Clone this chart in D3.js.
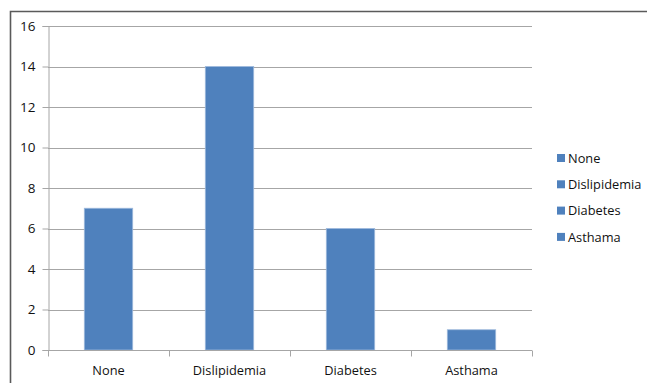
<!DOCTYPE html>
<html>
<head>
<meta charset="utf-8">
<script src="https://cdn.jsdelivr.net/npm/d3@7"></script>
<style>
  html, body { margin: 0; padding: 0; background: #fff; }
  svg { display: block; }
  text { font-family: "Open Sans", Lato, sans-serif; fill: #111; }
</style>
</head>
<body>
<svg id="chart" width="647" height="383"></svg>
<script>
// Comorbidity counts
const categories = ["None", "Dislipidemia", "Diabetes", "Asthama"];
const counts = [7, 14, 6, 1];
const yTicks = [0, 2, 4, 6, 8, 10, 12, 14, 16];
const legendLabels = ["None", "Dislipidemia", "Diabetes", "Asthama"];

const barColor = "#4f81bd";
const gridColor = "#a6a6a6";
const fontSize = 12.8;

const svg = d3.select("#chart");

// outer chart frame (left and top edges visible)
svg.append("path")
  .attr("d", "M10.5,383 V11.5 H647")
  .attr("fill", "none")
  .attr("stroke", "#5a5a5a")
  .attr("stroke-width", 1.6);

const plot = { left: 48, right: 532, top: 26, bottom: 350 };

const x = d3.scaleBand()
  .domain(categories)
  .range([plot.left, plot.right])
  .paddingInner(0.6)
  .paddingOuter(0.3);

const y = d3.scaleLinear()
  .domain([0, 16])
  .range([plot.bottom, plot.top]);

// horizontal gridlines
svg.append("g")
  .selectAll("line")
  .data(yTicks.filter(t => t > 0))
  .join("line")
  .attr("x1", plot.left)
  .attr("x2", plot.right)
  .attr("y1", d => Math.round(y(d)) + 0.5)
  .attr("y2", d => Math.round(y(d)) + 0.5)
  .attr("stroke", gridColor)
  .attr("stroke-width", 1);

// bars
svg.append("g")
  .selectAll("rect")
  .data(categories.map((c, i) => ({ c, v: counts[i] })))
  .join("rect")
  .attr("x", d => x(d.c))
  .attr("width", x.bandwidth())
  .attr("y", d => y(d.v))
  .attr("height", d => y(0) - y(d.v))
  .attr("fill", barColor)
  .attr("stroke", "#9db9dc")
  .attr("stroke-width", 0.8);

// y axis
const yAxis = svg.append("g")
  .attr("transform", `translate(${plot.left + 0.5},0)`)
  .call(d3.axisLeft(y).tickValues(yTicks).tickSize(6).tickPadding(7).tickFormat(d3.format("d")));
yAxis.select(".domain").attr("stroke", gridColor);
yAxis.selectAll(".tick line").attr("stroke", gridColor);
yAxis.selectAll(".tick text")
  .attr("font-size", 13.5)
  .attr("font-family", "'Open Sans', Lato, sans-serif")
  .attr("fill", "#111");

// x axis with ticks at category boundaries
const xAxisG = svg.append("g")
  .attr("transform", `translate(0,${Math.round(y(0)) + 0.5})`);
xAxisG.append("line")
  .attr("x1", plot.left).attr("x2", plot.right)
  .attr("stroke", gridColor);
const boundaries = d3.range(categories.length + 1).map(i => plot.left + i * (plot.right - plot.left) / categories.length);
xAxisG.selectAll("line.tk")
  .data(boundaries)
  .join("line")
  .attr("class", "tk")
  .attr("x1", d => Math.round(d) + 0.5)
  .attr("x2", d => Math.round(d) + 0.5)
  .attr("y1", 0)
  .attr("y2", 6)
  .attr("stroke", gridColor);
xAxisG.selectAll("text")
  .data(categories)
  .join("text")
  .attr("x", d => x(d) + x.bandwidth() / 2)
  .attr("y", 24)
  .attr("text-anchor", "middle")
  .attr("font-size", fontSize)
  .text(d => d);

// legend
const legend = svg.append("g").attr("transform", "translate(557,158)");
const rows = legend.selectAll("g")
  .data(legendLabels)
  .join("g")
  .attr("transform", (d, i) => `translate(0,${i * 26.3})`);
rows.append("rect")
  .attr("x", 0).attr("y", -4)
  .attr("width", 8).attr("height", 8)
  .attr("fill", barColor);
rows.append("text")
  .attr("x", 11)
  .attr("y", 4.8)
  .attr("font-size", fontSize)
  .text(d => d);
</script>
</body>
</html>
